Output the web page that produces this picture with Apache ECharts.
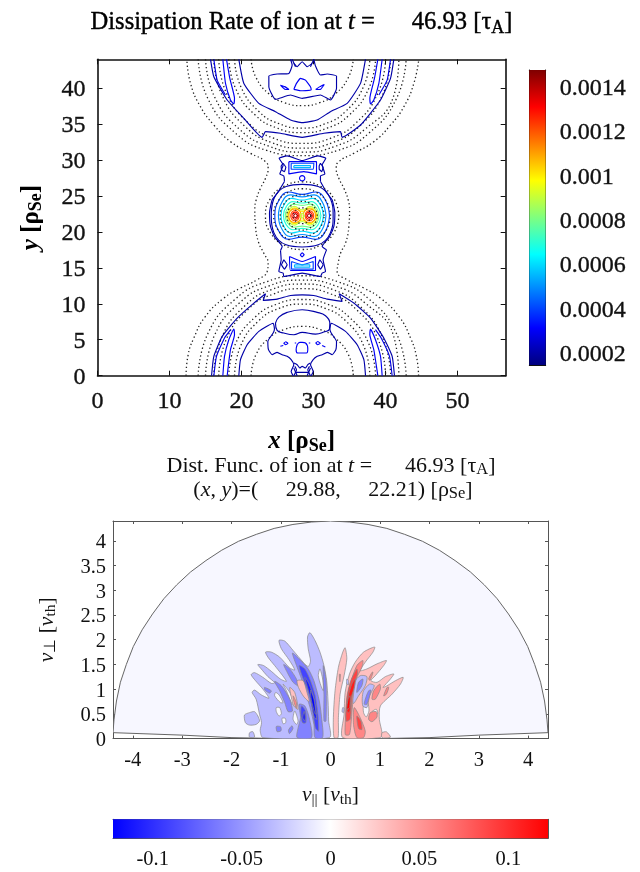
<!DOCTYPE html>
<html><head><meta charset="utf-8">
<style>html,body{margin:0;padding:0;background:#fff}#c{width:640px;height:872px}</style>
<script src="https://cdn.jsdelivr.net/npm/echarts@6/dist/echarts.min.js"></script>
</head><body><div id="c"></div>
<script>
// ---------- tick values ----------
const xTicksTop=[0,10,20,30,40,50];
const yTicksTop=[0,5,10,15,20,25,30,35,40];
const barTicksTop=[0.0002,0.0004,0.0006,0.0008,0.001,0.0012,0.0014];
const xTicksBottom=[-4,-3,-2,-1,0,1,2,3,4];
const yTicksBottom=[0,0.5,1,1.5,2,2.5,3,3.5,4];
const barTicksBottom=[-0.1,-0.05,0,0.05,0.1];
const jetColors=['#00007f','#0000ff','#007fff','#00ffff','#7fff7f','#ffff00','#ff7f00','#ff0000','#7f0000'];
const divColors=['#0000ff','#ffffff','#ff0000'];
const jetRange=[0.000147,0.001478];
const divRange=[-0.1223,0.1223];

// ---------- top panel: dotted contours ----------
const sepLeft=[[12.3,0],[12.55,2.69],[13.38,5.24],[15,8.25],[17.55,10.79],[19.86,12.18],[22.18,13.34],[23.57,14.5],[23.7,15.65],[23.1,17.04],[22.41,18.43],[21.95,20.75],[21.85,23.06],[22.04,24.45],[22.64,26.07],[23.34,27.46],[23.7,28.85],[23.34,29.77],[21.25,30.93],[18.47,32.55],[16.16,34.86],[14.3,37.41],[12.92,40.65],[12.41,44]];
const sepRight=[[44.6,0],[44.3,2.69],[43.48,5.24],[41.86,8.25],[39.31,10.79],[37,12.18],[34.68,13.34],[33.29,14.5],[33.43,15.65],[33.76,17.04],[34.45,18.43],[34.91,20.75],[35.01,23.06],[34.82,24.45],[34.22,26.07],[33.52,27.46],[33.16,28.85],[33.52,29.77],[35.61,30.93],[38.39,32.55],[40.7,34.86],[42.56,37.41],[43.94,40.65],[44.63,44]];
const dottedArcs=[
 {x:[13.98,15.34,19.14,23.49,28.43,33.37,37.72,41.52,42.88],low:[0,5.88,10.65,13.07,13.9,13.07,10.65,5.88,0],high:[44,38.52,33.75,31.33,30.6,31.33,33.75,38.52,44]},
 {x:[15,16.26,19.79,23.84,28.43,33.02,37.07,41.1,41.86],low:[0,5.63,10.19,12.5,13.3,12.5,10.19,5.63,0],high:[44,38.77,34.21,31.9,31.1,31.9,34.21,38.77,44]},
 {x:[16.13,17.29,20.52,24.22,28.43,32.64,36.34,39.57,40.73],low:[0,5.39,9.77,11.99,12.75,11.99,9.77,5.39,0],high:[44,39.01,34.63,32.41,31.65,32.41,34.63,39.01,44]},
 {x:[16.83,17.92,20.97,24.46,28.43,32.4,35.89,38.94,40.03],low:[0,5.12,9.27,11.37,12.1,11.37,9.27,5.12,0],high:[44,39.28,35.13,33.03,32.3,33.03,35.13,39.28,44]},
 {x:[18.23,19.19,21.87,24.94,28.43,31.92,34.99,37.67,38.63],low:[0,4.48,8.12,9.96,10.6,9.96,8.12,4.48,0],high:[44,39.92,36.28,34.44,33.8,34.44,36.28,39.92,44]},
 {x:[19.03,19.91,22.39,25.22,28.43,31.64,34.47,36.95,37.83],low:[0,4.21,7.63,9.36,9.96,9.36,7.63,4.21,0],high:[44,40.19,36.77,35.04,34.44,35.04,36.77,40.19,44]},
 {x:[21.33,22,23.86,26,28.43,30.86,32.99,34.86,35.53],low:[0,2.9,5.25,6.44,6.85,6.44,5.25,2.9,0],high:[44,41.5,39.15,37.96,37.55,37.96,39.15,41.5,44]}
];
const dottedRings=[
 [[33.53,22.25],[32.85,24.6],[30.98,26.32],[28.43,26.95],[25.88,26.32],[24.01,24.6],[23.33,22.25],[24.01,19.9],[25.88,18.18],[28.43,17.55],[30.98,18.18],[32.85,19.9]],
 [[32.38,22.25],[31.85,24.13],[30.41,25.5],[28.43,26],[26.45,25.5],[25.01,24.13],[24.48,22.25],[25.01,20.37],[26.45,19],[28.43,18.5],[30.41,19],[31.85,20.37]],
 [[31.48,22.25],[31.07,23.7],[29.96,24.76],[28.43,25.15],[26.9,24.76],[25.79,23.7],[25.38,22.25],[25.79,20.8],[26.9,19.74],[28.43,19.35],[29.96,19.74],[31.07,20.8]],
 [[30.53,22.25],[30.25,23.25],[29.48,23.98],[28.43,24.25],[27.38,23.98],[26.61,23.25],[26.33,22.25],[26.61,21.25],[27.38,20.52],[28.43,20.25],[29.48,20.52],[30.25,21.25]],
 [[29.63,22.25],[29.47,22.8],[29.03,23.2],[28.43,23.35],[27.83,23.2],[27.39,22.8],[27.23,22.25],[27.39,21.7],[27.83,21.3],[28.43,21.15],[29.03,21.3],[29.47,21.7]]
];

// ---------- top panel: solid open contours (level, points) ----------
const openContours=[
 [0.0002,[[15.84,0],[16.16,2.69],[17.32,5.47],[19.4,8.01],[21.72,10.1],[23.34,11.39],[23.01,10.47],[24.96,10.65],[26.81,11.16],[28.43,11.25],[30.05,11.16],[31.9,10.65],[33.98,10.33],[33.57,11.39],[35.6,10.1],[37.92,8.01],[39.77,5.24],[40.93,2.69],[41.25,0]]],
 [0.00028,[[16.16,0],[16.53,2.69],[17.64,5.24],[18.5,6.4]]],
 [0.00028,[[40.93,0],[40.56,2.69],[39.4,5.24],[38.61,6.4]]],
 [0.0003,[[17.41,0],[17.64,2.69],[18.24,5],[18.94,6.49],[19.03,5.7],[18.47,3.62],[18.01,0]]],
 [0.0003,[[39.54,0],[39.31,2.69],[38.61,5],[37.92,6.49],[37.83,5.7],[38.38,3.62],[38.94,0]]],
 [0.0002,[[19.63,0],[19.86,2.23],[20.79,4.31],[22.41,6.16],[24.4,7.3],[24.58,6.49],[24.4,5.93],[23.66,4.77],[23.75,3.62],[24.26,2.92],[24.95,3.25],[25.65,2.92],[26.34,2.69],[26.9,2.23],[27.27,1.53],[26.9,0.6],[27.18,0]]],
 [0.0002,[[29.68,0],[29.96,0.6],[29.59,1.53],[29.96,2.23],[30.52,2.69],[31.21,2.92],[31.91,3.25],[32.6,2.92],[33.11,3.62],[33.2,4.77],[32.46,5.93],[32.28,6.49],[32.46,7.3],[34.45,6.16],[36.07,4.31],[37,2.23],[37.23,0]]],
 [0.0002,[[27.27,1.76],[27.73,1.53],[28.1,1.07],[28.43,1.3],[28.89,1.07],[29.21,1.53],[29.58,1.76]]],
 [0.0002,[[27.27,0],[27.64,0.84],[27.41,1.3]]],
 [0.0002,[[27.73,0],[27.27,1.07]]],
 [0.0002,[[29.58,0],[29.21,0.84],[29.45,1.3]]],
 [0.0002,[[29.12,0],[29.58,1.07]]],
 [0.0002,[[27.5,0.47],[29.36,0.47]]],
 [0.0003,[[25.4,4.1],[25.8,4.2]]],
 [0.0003,[[31.2,4.2],[31.65,4]]],
 [0.0003,[[27.4,4.55],[27.6,4.55]]],
 [0.0003,[[29.35,4.55],[29.55,4.55]]],
 [0.0002,[[15.7,44],[16.16,41.58],[18.01,38.34],[20.33,35.79],[22.87,33.15],[23.34,33.94],[25.42,33.71],[28.43,33.15],[31.44,33.71],[33.75,33.94],[33.98,33.15],[36.53,34.86],[39.31,38.34],[40.7,41.35],[41.16,44]]],
 [0.00028,[[16.16,44],[16.62,41.11],[17.78,39.03]]],
 [0.00028,[[40.7,44],[40.23,41.11],[39.08,39.03]]],
 [0.0003,[[17.41,44],[17.78,40.65],[18.47,38.34],[18.94,37.78],[19.03,38.57],[18.38,41.34],[17.92,44]]],
 [0.0003,[[39.54,44],[39.08,40.65],[38.38,38.34],[37.92,37.78],[37.83,38.57],[38.47,41.34],[38.94,44]]],
 [0.0002,[[19.63,44],[20.33,40.65],[22.41,37.87],[24.72,36.72],[26.81,35.56],[28.43,35.19],[30.51,35.56],[32.36,36.72],[34.68,37.87],[36.53,40.65],[37.22,44]]],
 [0.0002,[[26.81,44],[27.04,43.2],[26.58,42.04],[24.96,41.95],[23.8,41.67],[23.8,40.19],[24.72,38.43],[26.81,39.03],[28.43,38.57],[30.97,39.03],[32.36,38.34],[33.2,39.96],[33.2,41.67],[31.9,41.95],[30.97,41.81],[30.28,43.06],[30.05,44]]],
 [0.0002,[[27.27,43.43],[27.73,42.97],[28.43,43.66],[29.12,42.97],[29.82,43.43]]],
 [0.0002,[[27.04,44],[27.5,42.97]]],
 [0.0002,[[30.05,44],[29.58,42.97]]],
 [0.0002,[[25.97,27],[25.88,27.78],[25.33,28.06],[25.79,29.31],[25.23,30.23],[26.34,30.56],[28.43,29.91],[30.6,30.56],[31.71,30.23],[31.21,29.31],[31.58,28.06],[30.97,27.78],[30.97,27]]],
 [0.0002,[[25.42,17.41],[25.51,16.12],[25.19,14.5],[25.79,14.26],[25.88,13.8],[28.43,14.26],[30.97,13.8],[31.2,14.26],[31.67,14.5],[31.34,16.12],[31.81,17.5]]],
 [0.0002,[[25.97,27],[25,25.4],[24.26,24.45],[23.89,22.6],[24.03,20.75],[24.6,19.3],[25.65,17.97],[25.42,17.41]]],
 [0.0002,[[30.97,27],[31.86,25.4],[32.6,24.45],[32.97,22.6],[32.83,20.75],[32.2,19.3],[31.21,17.97],[31.81,17.5]]]
];

// ---------- top panel: solid closed contours (level, points) ----------
const closedContours=[
 [0.0002,[[24.72,7.32],[25.19,8.15],[26.34,8.8],[28.43,9.17],[30.51,8.8],[31.67,8.34],[32.27,7.32],[32.22,6.49],[31.44,6.07],[30.28,5.79],[28.43,6.02],[27.27,5.7],[25.88,5.93],[24.95,6.3]]],
 [0.0003,[[27.73,4.31],[28.1,4.63],[28.43,4.63],[28.89,4.54],[29.21,3.71],[29.03,3.15],[27.83,3.15],[27.59,3.62]]],
 [0.0003,[[25.85,4.5],[26.16,4.72],[26.45,4.5],[26.16,4.3]]],
 [0.0003,[[30.3,4.54],[30.6,4.75],[30.95,4.5],[30.6,4.3]]],
 [0.0003,[[27.27,39.82],[27.64,40.65],[28.2,41.35],[28.89,41.11],[29.58,40.19],[29.68,39.72],[28.2,39.63]]],
 [0.0003,[[25.4,40.4],[26,40.2],[26.6,39.8],[26,39.85]]],
 [0.0003,[[30.3,39.8],[30.9,40.2],[31.5,40.5],[31,39.85]]],
 [0.0003,[[26.58,29.77],[30.42,29.77],[30.42,28.06],[28.66,28.38],[26.58,28.06]]],
 [0.0004,[[26.9,29.54],[30.05,29.54],[29.96,28.71],[26.9,28.71]]],
 [0.00055,[[27.27,29.21],[29.58,29.21],[29.58,28.94],[27.27,28.94]]],
 [0.0002,[[25.79,29.54],[26.16,28.98],[25.97,28.38],[25.6,28.61],[25.51,29.17]]],
 [0.0002,[[30.97,29.54],[31.34,28.98],[31.16,28.38],[30.79,28.71],[30.79,29.17]]],
 [0.0003,[[28.06,27.46],[28.17,27.72],[28.43,27.83],[28.69,27.72],[28.8,27.46],[28.69,27.2],[28.43,27.09],[28.17,27.2]]],
 [0.0003,[[26.67,16.58],[28.43,15.88],[30.28,16.58],[30.28,14.63],[26.81,14.63]]],
 [0.0004,[[26.95,15.88],[28.43,15.42],[29.96,15.88],[29.96,14.82],[26.95,14.82]]],
 [0.00055,[[27.36,15.42],[29.49,15.42],[29.49,15.1],[27.36,15.1]]],
 [0.0002,[[25.88,16.12],[26.34,15.42],[25.97,14.82],[25.56,15.42]]],
 [0.0002,[[30.88,16.12],[31.34,15.42],[30.97,14.82],[30.6,15.42]]],
 [0.0003,[[28.15,16.81],[28.43,17.09],[28.71,16.81],[28.43,16.53]]],
 [0.0002,[[24.13,22.25],[24.5,24.6],[26.2,26.3],[28.43,26.6],[30.66,26.3],[32.36,24.6],[32.73,22.25],[32.36,19.9],[30.66,18.2],[28.43,17.9],[26.2,18.2],[24.5,19.9]]],
 [0.0004,[[32.23,22.25],[31.66,24.4],[30.33,25.55],[28.43,25.22],[26.53,25.55],[25.2,24.4],[24.63,22.25],[25.2,20.1],[26.53,18.95],[28.43,19.28],[30.33,18.95],[31.66,20.1]]],
 [0.0005,[[31.73,22.25],[31.23,24.14],[30.08,25.15],[28.43,24.86],[26.78,25.15],[25.63,24.14],[25.13,22.25],[25.63,20.36],[26.78,19.35],[28.43,19.64],[30.08,19.35],[31.23,20.36]]],
 [0.0006,[[31.38,22.25],[30.94,23.81],[29.91,24.65],[28.43,24.41],[26.95,24.65],[25.92,23.81],[25.48,22.25],[25.92,20.69],[26.95,19.85],[28.43,20.09],[29.91,19.85],[30.94,20.69]]],
 [0.0007,[[31.03,22.25],[30.64,23.52],[29.73,24.2],[28.43,24.01],[27.13,24.2],[26.22,23.52],[25.83,22.25],[26.22,20.98],[27.13,20.3],[28.43,20.49],[29.73,20.3],[30.64,20.98]]],
 [0.0008,[[30.78,22.25],[30.43,23.29],[29.61,23.85],[28.43,23.69],[27.25,23.85],[26.43,23.29],[26.08,22.25],[26.43,21.21],[27.25,20.65],[28.43,20.81],[29.61,20.65],[30.43,21.21]]],
 [0.0009,[[30.58,22.25],[30.26,23.1],[29.51,23.55],[28.43,23.05],[27.35,23.55],[26.6,23.1],[26.28,22.25],[26.6,21.4],[27.35,20.95],[28.43,21.45],[29.51,20.95],[30.26,21.4]]],
 [0.001,[[30.43,22.25],[30.13,22.95],[29.5,23.35],[28.43,22.85],[27.36,23.35],[26.73,22.95],[26.43,22.25],[26.73,21.55],[27.36,21.15],[28.43,21.65],[29.5,21.15],[30.13,21.55]]],
 [0.0011,[[26.58,22.25],[26.75,22.9],[27.43,23.2],[28.1,22.9],[28.28,22.25],[28.1,21.6],[27.43,21.3],[26.75,21.6]]],
 [0.0011,[[28.58,22.25],[28.76,22.9],[29.43,23.2],[30.11,22.9],[30.28,22.25],[30.11,21.6],[29.43,21.3],[28.76,21.6]]],
 [0.0012,[[26.83,22.25],[27,22.75],[27.43,22.95],[27.86,22.75],[28.03,22.25],[27.86,21.75],[27.43,21.55],[27,21.75]]],
 [0.0012,[[28.83,22.25],[29,22.75],[29.43,22.95],[29.86,22.75],[30.03,22.25],[29.86,21.75],[29.43,21.55],[29,21.75]]],
 [0.0013,[[27.0,22.25],[27.15,22.6],[27.45,22.75],[27.75,22.6],[27.9,22.25],[27.75,21.9],[27.45,21.75],[27.15,21.9]]],
 [0.0013,[[28.95,22.25],[29.1,22.6],[29.4,22.75],[29.7,22.6],[29.85,22.25],[29.7,21.9],[29.4,21.75],[29.1,21.9]]],
 [0.0014,[[27.2,22.25],[27.5,22.55],[27.8,22.25],[27.5,21.95]]],
 [0.0014,[[29.1,22.25],[29.4,22.55],[29.7,22.25],[29.4,21.95]]],
 [0.0009,[[28.13,22.25],[28.43,22.6],[28.73,22.25],[28.43,21.9]]]
];

// ---------- bottom panel: filled contours (level, points), painted in order ----------
const backgroundLevel=-0.004;
const velocityDisk=[[-4.4,0.12],[-4.38,0.38],[-4.33,0.76],[-4.25,1.14],[-4.13,1.5],[-3.99,1.86],[-3.81,2.2],[-3.6,2.52],[-3.37,2.83],[-3.11,3.11],[-2.83,3.37],[-2.52,3.6],[-2.2,3.81],[-1.86,3.99],[-1.5,4.13],[-1.14,4.25],[-0.76,4.33],[-0.38,4.38],[0,4.4],[0.38,4.38],[0.76,4.33],[1.14,4.25],[1.5,4.13],[1.86,3.99],[2.2,3.81],[2.52,3.6],[2.83,3.37],[3.11,3.11],[3.37,2.83],[3.6,2.52],[3.81,2.2],[3.99,1.86],[4.13,1.5],[4.25,1.14],[4.33,0.76],[4.38,0.38],[4.4,0.12],[3,0.07],[2,0.02],[1,0],[0,0],[-1,0],[-2,0.02],[-3,0.07]];
const filledContours=[
 [-0.032,[[-1.368,0.02],[-1.422,0.165],[-1.395,0.321],[-1.436,0.491],[-1.504,0.797],[-1.585,0.933],[-1.537,0.981],[-1.402,0.885],[-1.245,0.817],[-1.368,1.001],[-1.517,1.171],[-1.605,1.293],[-1.537,1.334],[-1.368,1.239],[-1.198,1.117],[-1.13,1.13],[-1.266,1.253],[-1.402,1.409],[-1.47,1.497],[-1.354,1.477],[-1.198,1.361],[-1.015,1.205],[-0.892,1.157],[-0.994,1.307],[-1.13,1.477],[-1.266,1.647],[-1.313,1.749],[-1.198,1.749],[-1.028,1.647],[-0.824,1.429],[-0.723,1.389],[-0.838,1.593],[-0.994,1.817],[-1.042,1.987],[-0.926,1.973],[-0.757,1.783],[-0.553,1.545],[-0.451,1.457],[-0.404,1.565],[-0.451,1.817],[-0.465,2.055],[-0.417,2.143],[-0.315,1.987],[-0.213,1.749],[-0.132,1.477],[-0.078,1.171],[-0.05,0.763],[-0.037,0.355],[-0.023,0.02]]],
 [-0.032,[[-1.741,0.477],[-1.639,0.525],[-1.537,0.545],[-1.47,0.457],[-1.436,0.355],[-1.504,0.287],[-1.639,0.273],[-1.721,0.321]]],
 [-0.032,[[-1.639,0.117],[-1.571,0.14],[-1.537,0.03],[-1.639,0.03]]],
 [backgroundLevel,[[-0.213,1.409],[-0.159,1.205],[-0.145,0.967],[-0.193,1.069],[-0.247,1.273]]],
 [backgroundLevel,[[-1.096,0.627],[-1.028,0.627],[-0.994,0.505],[-1.042,0.457],[-1.096,0.545]]],
 [backgroundLevel,[[-0.981,0.409],[-0.913,0.409],[-0.906,0.321],[-0.96,0.301]]],
 [backgroundLevel,[[-1.11,0.933],[-1.042,0.885],[-0.96,0.729],[-1.015,0.729],[-1.13,0.865]]],
 [backgroundLevel,[[-0.96,1.103],[-0.824,0.933],[-0.723,0.661],[-0.791,0.729],[-0.892,0.967]]],
 [backgroundLevel,[[-0.723,0.559],[-0.655,0.355],[-0.689,0.287],[-0.757,0.389]]],
 [-0.06,[[-0.77,1.729],[-0.634,1.613],[-0.451,1.409],[-0.336,1.171],[-0.227,0.763],[-0.173,0.355],[-0.159,0.02],[-0.315,0.02],[-0.336,0.287],[-0.404,0.593],[-0.485,0.865],[-0.587,1.205],[-0.675,1.443]]],
 [-0.06,[[-0.634,0.695],[-0.519,0.661],[-0.431,0.423],[-0.383,0.02],[-0.675,0.02],[-0.655,0.219],[-0.607,0.423]]],
 [-0.06,[[-0.947,1.497],[-0.824,1.409],[-0.689,1.205],[-0.655,1.069],[-0.757,1.137],[-0.858,1.307]]],
 [-0.06,[[-1.13,1.157],[-0.994,1.069],[-0.824,0.797],[-0.77,0.559],[-0.858,0.545],[-0.926,0.729],[-1.028,0.967]]],
 [-0.06,[[-1.334,1.035],[-1.198,0.967],[-1.232,0.919],[-1.327,0.981]]],
 [-0.06,[[-1.096,0.246],[-1.01,0.24],[-1,0.16],[-1.08,0.14]]],
 [-0.06,[[-0.85,0.17],[-0.78,0.26],[-0.76,0.2],[-0.83,0.1]]],
 [-0.06,[[-0.145,1.477],[-0.091,1.171],[-0.091,0.355],[-0.132,0.355],[-0.132,0.9],[-0.145,1.2]]],
 [0.03,[[-0.675,1.171],[-0.553,1.171],[-0.485,0.967],[-0.431,0.749],[-0.539,0.845],[-0.648,1.035]]],
 [0.03,[[-0.824,1.035],[-0.723,0.933],[-0.655,0.593],[-0.743,0.661],[-0.791,0.831]]],
 [0.058,[[-0.757,0.865],[-0.689,0.729],[-0.689,0.613],[-0.736,0.729]]],
 [-0.09,[[-0.634,1.477],[-0.519,1.409],[-0.404,1.171],[-0.308,0.865],[-0.254,0.491],[-0.241,0.151],[-0.308,0.219],[-0.363,0.593],[-0.444,0.933],[-0.553,1.205]]],
 [-0.09,[[-0.587,0.661],[-0.505,0.559],[-0.498,0.321],[-0.567,0.321],[-0.6,0.49]]],
 [-0.11,[[-0.535,0.55],[-0.51,0.45],[-0.52,0.36],[-0.56,0.42]]],
 [-0.11,[[-0.519,1.239],[-0.431,1.103],[-0.336,0.797],[-0.281,0.389],[-0.336,0.457],[-0.404,0.797],[-0.465,1.035]]],
 [-0.122,[[-0.404,0.98],[-0.336,0.797],[-0.295,0.491],[-0.322,0.525],[-0.39,0.797]]],
 [0.03,[[0.296,1.837],[0.33,1.613],[0.275,1.273],[0.194,0.899],[0.16,0.423],[0.153,0.02],[0.071,0.02],[0.058,0.423],[0.092,0.967],[0.16,1.443],[0.248,1.749]]],
 [0.058,[[0.18,1.3],[0.2,1.3],[0.19,1.15]]],
 [0.03,[[0.248,0.02],[0.275,0.491],[0.296,0.933],[0.384,1.307],[0.499,1.545],[0.669,1.749],[0.893,1.851],[0.859,1.749],[0.703,1.545],[0.601,1.375],[0.737,1.409],[0.941,1.511],[1.131,1.579],[1.076,1.477],[0.907,1.273],[0.818,1.171],[0.941,1.137],[1.11,1.253],[1.28,1.307],[1.212,1.205],[1.063,1.035],[1.144,1.069],[1.314,1.171],[1.47,1.239],[1.416,1.103],[1.246,0.899],[1.009,0.661],[0.988,0.389],[1.042,0.117],[1.009,0.02]]],
 [0.03,[[1.042,0.117],[1.131,0.137],[1.212,0.029],[1.042,0.02]]],
 [backgroundLevel,[[0.669,0.695],[0.751,0.729],[0.778,0.559],[0.723,0.437],[0.669,0.525]]],
 [backgroundLevel,[[0.839,0.545],[0.927,0.593],[0.954,0.505],[0.859,0.477]]],
 [-0.032,[[0.479,1.137],[0.601,1.273],[0.737,1.253],[0.703,1.069],[0.567,0.865],[0.465,0.709],[0.431,0.899]]],
 [-0.032,[[0.669,0.967],[0.791,1.103],[0.886,1.069],[0.791,0.865],[0.737,0.627],[0.655,0.661],[0.642,0.817]]],
 [-0.06,[[0.567,1.137],[0.655,1.205],[0.635,1.069],[0.533,0.933]]],
 [-0.06,[[0.703,0.797],[0.771,0.967],[0.818,0.98],[0.737,0.695],[0.683,0.695]]],
 [-0.032,[[0.33,1.205],[0.363,1.171],[0.363,1.089],[0.33,1.103]]],
 [-0.032,[[0.248,0.627],[0.275,0.613],[0.262,0.525],[0.234,0.545]]],
 [0.058,[[0.296,0.083],[0.33,0.763],[0.397,1.103],[0.533,1.477],[0.655,1.579],[0.635,1.443],[0.52,1.205],[0.465,0.899],[0.431,0.491],[0.384,0.083]]],
 [0.058,[[0.479,0.627],[0.601,0.423],[0.703,0.151],[0.669,0.02],[0.533,0.02],[0.465,0.287]]],
 [0.058,[[0.839,0.797],[0.873,0.967],[0.995,1.103],[1.009,1.001],[0.907,0.797]]],
 [0.058,[[1.076,0.865],[1.144,1.035],[1.178,1.035],[1.131,0.899]]],
 [0.058,[[0.771,1.205],[0.84,1.34],[0.86,1.34],[0.8,1.18]]],
 [0.058,[[0.805,0.525],[0.927,0.545],[0.941,0.437],[0.839,0.341],[0.771,0.389]]],
 [0.09,[[0.316,0.355],[0.33,0.831],[0.411,1.171],[0.533,1.409],[0.547,1.307],[0.465,1.069],[0.425,0.695],[0.397,0.389]]],
 [0.09,[[0.533,0.457],[0.615,0.355],[0.635,0.185],[0.567,0.205]]],
 [0.11,[[0.33,0.559],[0.363,0.865],[0.431,1.103],[0.499,1.205],[0.479,1.035],[0.411,0.797],[0.397,0.559],[0.363,0.525]]],
 [0.122,[[0.33,0.593],[0.357,0.797],[0.397,0.865],[0.384,0.627]]]
];

// ---------- helpers ----------
const chart=echarts.init(document.getElementById('c'),null,{renderer:'canvas'});
const SERIF='"Liberation Serif","Times New Roman",serif';
function levelColor(v,range,colors){
  const t=Math.max(0,Math.min(1,(v-range[0])/(range[1]-range[0])));
  return echarts.color.lerp(t,colors);
}
function closeLoop(p){return p.concat([p[0]]);}
function zip(x,y){return x.map((a,i)=>[a,y[i]]);}
function lineSeries(points,color,dotted,smooth){
  return {type:'line',xAxisIndex:0,yAxisIndex:0,data:points,showSymbol:false,symbol:'none',silent:true,smooth:smooth,clip:true,animation:false,
    lineStyle:dotted?{color:'#222',width:1.3,type:[1.3,2.6]}:{color:color,width:1.15}};
}
function axisBase(o){
  let label={show:false};
  if(o.labels){
    label={show:true,customValues:o.ticks,margin:o.margin,color:'#111',fontFamily:SERIF,fontSize:o.size,hideOverlap:false,showMinLabel:true,showMaxLabel:true,textBorderColor:'#111',textBorderWidth:o.border||0,formatter:v=>String(v)};
    if(o.pad){
      label.rich={t:{padding:[o.pad,0,0,0],fontFamily:SERIF,fontSize:o.size,color:'#111',textBorderColor:'#111',textBorderWidth:o.border||0}};
      label.formatter=v=>'{t|'+v+'}';
    }
  }
  return Object.assign({type:'value',min:o.min,max:o.max,gridIndex:o.grid,position:o.pos,
    axisLine:{show:true,onZero:false,lineStyle:{color:o.color,width:o.width}},
    axisTick:{show:true,inside:true,length:o.tick,customValues:o.ticks,lineStyle:{color:o.color,width:o.tickW||1}},
    minorTick:{show:false},splitLine:{show:false},axisLabel:label},o.extra||{});
}
const boldRich={b:{fontFamily:SERIF,fontSize:25,fontWeight:'bold',lineHeight:28,color:'#000'},bi:{fontFamily:SERIF,fontSize:25,fontWeight:'bold',fontStyle:'italic',lineHeight:28,color:'#000'},bs:{fontFamily:SERIF,fontSize:18,fontWeight:'bold',lineHeight:18,verticalAlign:'bottom',color:'#000'}};
const plainRich={n:{fontFamily:SERIF,fontSize:22,fontWeight:'normal',lineHeight:24,color:'#111'},i:{fontFamily:SERIF,fontSize:22,fontWeight:'normal',fontStyle:'italic',lineHeight:24,color:'#111'},s:{fontFamily:SERIF,fontSize:16.5,fontWeight:'normal',lineHeight:14,verticalAlign:'bottom',color:'#111'}};
const axisRich={n:{fontFamily:SERIF,fontSize:21.5,fontWeight:'normal',lineHeight:24,color:'#111'},i:{fontFamily:SERIF,fontSize:21.5,fontWeight:'normal',fontStyle:'italic',lineHeight:24,color:'#111'},s:{fontFamily:SERIF,fontSize:15.5,fontWeight:'normal',lineHeight:14,verticalAlign:'bottom',color:'#111'}};
const headBorder={textBorderColor:'#000',textBorderWidth:0.4,color:'#000',fontWeight:'normal',fontFamily:SERIF};
const headRich={n:Object.assign({fontSize:24.6,lineHeight:28},headBorder),i:Object.assign({fontSize:24.6,fontStyle:'italic',lineHeight:28},headBorder),s:Object.assign({fontSize:18,lineHeight:17,verticalAlign:'bottom'},headBorder)};
function titleItem(text,left,top,rich){return {text:text,left:left,top:top,textAlign:'center',textStyle:{rich:rich,fontFamily:SERIF,fontWeight:'normal'}};}
const dark='#111',gray='#555';

// ---------- series ----------
const series=[];
series.push(lineSeries(sepLeft,null,true,0.5));
series.push(lineSeries(sepRight,null,true,0.5));
dottedArcs.forEach(a=>{
  series.push(lineSeries(zip(a.x,a.low),null,true,0.5));
  series.push(lineSeries(zip(a.x,a.high),null,true,0.5));
});
openContours.forEach(c=>series.push(lineSeries(c[1],levelColor(c[0],jetRange,jetColors),false,0.15)));
closedContours.forEach(c=>series.push(lineSeries(closeLoop(c[1]),levelColor(c[0],jetRange,jetColors),false,c[1].length>=8?0.45:0.1)));
dottedRings.forEach(r=>series.push(lineSeries(closeLoop(r),null,true,0.5)));

// colour bar of the top panel
series.push({type:'custom',xAxisIndex:2,yAxisIndex:2,silent:true,animation:false,data:[jetRange],
  renderItem:(p,api)=>{
    const a=api.coord([0,api.value(0)]),b=api.coord([1,api.value(1)]);
    return {type:'rect',shape:{x:a[0],y:b[1],width:b[0]-a[0],height:a[1]-b[1]},
      style:{fill:new echarts.graphic.LinearGradient(0,1,0,0,jetColors.map((c,i)=>({offset:i/(jetColors.length-1),color:c})))}};
  },encode:{y:[0,1]}});

// filled velocity-space panel
const paintList=[[backgroundLevel,velocityDisk]].concat(filledContours);
series.push({type:'custom',xAxisIndex:4,yAxisIndex:4,silent:true,animation:false,clip:true,
  data:paintList.map((_,i)=>[i]),encode:{x:[],y:[]},
  renderItem:(p,api)=>{
    const item=paintList[p.dataIndex];
    const isDisk=p.dataIndex===0;
    return {type:'polygon',shape:{points:item[1].map(q=>api.coord(q)),smooth:isDisk?0:0.25},
      style:{fill:levelColor(item[0],divRange,divColors),stroke:isDisk?'#666':'#8a8a8a',lineWidth:isDisk?1:0.7}};
  }});

// colour bar of the bottom panel
series.push({type:'custom',xAxisIndex:6,yAxisIndex:6,silent:true,animation:false,data:[divRange],
  renderItem:(p,api)=>{
    const a=api.coord([api.value(0),0]),b=api.coord([api.value(1),1]);
    return {type:'rect',shape:{x:a[0],y:b[1],width:b[0]-a[0],height:a[1]-b[1]},
      style:{fill:new echarts.graphic.LinearGradient(0,0,1,0,divColors.map((c,i)=>({offset:i/(divColors.length-1),color:c})))}};
  },encode:{x:[0,1]}});

const option={
  backgroundColor:'#fff',animation:false,
  title:[
    titleItem('{n|Dissipation Rate of ion at }{i|t}{n| =      46.93 [τ}{s|A}{n|]}',296.5,4,headRich),
    titleItem('{n|Dist. Func. of ion at }{i|t}{n| =      46.93 [τ}{s|A}{n|]}',326,449,plainRich),
    titleItem('{n|(}{i|x}{n|, }{i|y}{n|)=(     29.88,     22.21) [ρ}{s|Se}{n|]}',328,473,plainRich)
  ],
  grid:[
    {left:97.5,top:59.3,width:408.2,height:316.4},
    {left:529.3,top:70,width:16.4,height:295},
    {left:113,top:521,width:435,height:217.6},
    {left:113,top:819.3,width:435,height:19}
  ],
  xAxis:[
    axisBase({grid:0,min:0,max:56.7,pos:'bottom',color:dark,width:1.6,tick:5,ticks:xTicksTop,labels:true,size:24,margin:14,border:0.35,extra:{
      name:'{bi|x}{b| [ρ}{bs|Se}{b|]}',nameLocation:'middle',nameGap:52,nameTextStyle:{rich:boldRich}}}),
    axisBase({grid:0,min:0,max:56.7,pos:'top',color:dark,width:1.6,tick:5,ticks:xTicksTop}),
    axisBase({grid:1,min:0,max:1,pos:'bottom',color:dark,width:1,tick:0,ticks:[]}),
    axisBase({grid:1,min:0,max:1,pos:'top',color:dark,width:1,tick:0,ticks:[]}),
    axisBase({grid:2,min:-4.4,max:4.4,pos:'bottom',color:gray,width:1,tick:3,ticks:xTicksBottom,labels:true,size:20.5,margin:12,extra:{
      name:'{i|v}{s|||}{n| [}{i|v}{s|th}{n|]}',nameLocation:'middle',nameGap:45,nameTextStyle:{rich:axisRich}}}),
    axisBase({grid:2,min:-4.4,max:4.4,pos:'top',color:gray,width:1,tick:3,ticks:xTicksBottom}),
    axisBase({grid:3,min:divRange[0],max:divRange[1],pos:'bottom',color:gray,width:1,tick:3,ticks:barTicksBottom,labels:true,size:20.5,margin:11}),
    axisBase({grid:3,min:divRange[0],max:divRange[1],pos:'top',color:gray,width:1,tick:3,ticks:barTicksBottom})
  ],
  yAxis:[
    axisBase({grid:0,min:0,max:44,pos:'left',color:dark,width:1.6,tick:5,ticks:yTicksTop,labels:true,size:24,margin:12,pad:4,border:0.35,extra:{
      name:'{bi|y}{b| [ρ}{bs|Se}{b|]}',nameLocation:'middle',nameGap:52,nameTextStyle:{rich:boldRich}}}),
    axisBase({grid:0,min:0,max:44,pos:'right',color:dark,width:1.6,tick:5,ticks:yTicksTop}),
    axisBase({grid:1,min:jetRange[0],max:jetRange[1],pos:'right',color:dark,width:1,tick:4,ticks:barTicksTop,labels:true,size:24,margin:14,pad:3,border:0.35}),
    axisBase({grid:1,min:jetRange[0],max:jetRange[1],pos:'left',color:dark,width:1,tick:4,ticks:barTicksTop}),
    axisBase({grid:2,min:0,max:4.4,pos:'left',color:gray,width:1,tick:3,ticks:yTicksBottom,labels:true,size:20.5,margin:7,pad:4,extra:{
      name:'{i|v}{s|⊥}{n| [}{i|v}{s|th}{n|]}',nameLocation:'middle',nameGap:54,nameTextStyle:{rich:axisRich}}}),
    axisBase({grid:2,min:0,max:4.4,pos:'right',color:gray,width:1,tick:3,ticks:yTicksBottom}),
    axisBase({grid:3,min:0,max:1,pos:'left',color:gray,width:1,tick:0,ticks:[]}),
    axisBase({grid:3,min:0,max:1,pos:'right',color:gray,width:1,tick:0,ticks:[]})
  ],
  series:series
};
chart.setOption(option);
</script></body></html>
